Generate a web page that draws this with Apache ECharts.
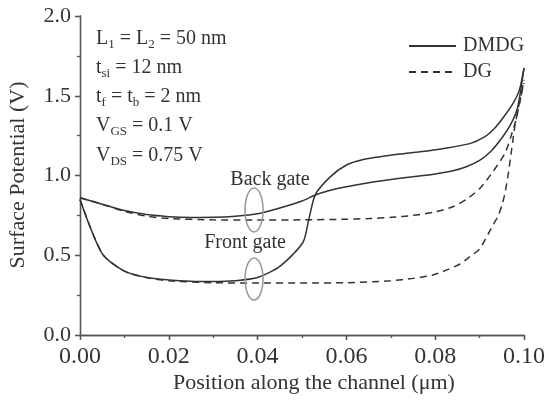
<!DOCTYPE html>
<html><head><meta charset="utf-8">
<script src="https://cdn.jsdelivr.net/npm/echarts@6/dist/echarts.min.js"></script>
<style>html,body{margin:0;padding:0;background:#fff}#c{width:549px;height:403px}</style>
</head><body><div id="c"></div>
<script>
// ---- data ----
const frontDmdgX = [0, 0.005, 0.01, 0.015, 0.02, 0.025, 0.03, 0.035, 0.04, 0.045, 0.0502, 0.0515, 0.053, 0.0563, 0.06, 0.0638, 0.0676, 0.072, 0.0766, 0.082, 0.0878, 0.091, 0.0935, 0.0955, 0.0975, 0.099, 0.1];
const frontDmdgY = [0.85, 0.51, 0.40, 0.36, 0.345, 0.337, 0.335, 0.34, 0.36, 0.43, 0.58, 0.72, 0.88, 0.99, 1.066, 1.10, 1.118, 1.135, 1.149, 1.17, 1.20, 1.24, 1.30, 1.37, 1.45, 1.54, 1.674];
const backDmdgX = [0, 0.005, 0.01, 0.015, 0.02, 0.025, 0.03, 0.035, 0.04, 0.045, 0.05, 0.053, 0.056, 0.06, 0.065, 0.07, 0.075, 0.08, 0.084, 0.087, 0.09, 0.0925, 0.095, 0.097, 0.0985, 0.1];
const backDmdgY = [0.86, 0.82, 0.78, 0.755, 0.742, 0.737, 0.738, 0.745, 0.76, 0.796, 0.84, 0.878, 0.905, 0.93, 0.955, 0.975, 0.992, 1.01, 1.03, 1.055, 1.095, 1.15, 1.235, 1.32, 1.42, 1.674];
const backDgX = [0, 0.005, 0.01, 0.015, 0.02, 0.03, 0.04, 0.05, 0.06, 0.065, 0.07, 0.075, 0.08, 0.084, 0.087, 0.0901, 0.093, 0.0957, 0.097, 0.098, 0.099, 0.1];
const backDgY = [0.86, 0.82, 0.775, 0.745, 0.73, 0.722, 0.721, 0.722, 0.726, 0.73, 0.738, 0.75, 0.772, 0.804, 0.85, 0.92, 1.024, 1.139, 1.24, 1.33, 1.45, 1.60];
const frontDgX = [0, 0.005, 0.01, 0.015, 0.02, 0.03, 0.04, 0.05, 0.06, 0.07, 0.075, 0.0795, 0.0826, 0.0856, 0.0878, 0.09, 0.0916, 0.093, 0.0941, 0.095, 0.0957, 0.0964, 0.0972, 0.098, 0.099, 0.1];
const frontDgY = [0.85, 0.51, 0.40, 0.36, 0.34, 0.328, 0.326, 0.326, 0.328, 0.34, 0.355, 0.376, 0.408, 0.445, 0.491, 0.54, 0.616, 0.69, 0.742, 0.81, 0.888, 1.0, 1.16, 1.32, 1.46, 1.58];
const xTickLabels = ['0.00', '0.02', '0.04', '0.06', '0.08', '0.10'];
const yTickLabels = ['0.0', '0.5', '1.0', '1.5', '2.0'];
const legendNames = ['DMDG', 'DG'];
const noteLines = [
  '{m|L}{s|1}{m| = L}{s|2}{m| = 50 nm}',
  '{m|t}{s|si}{m| = 12 nm}',
  '{m|t}{s|f}{m| = t}{s|b}{m| = 2 nm}',
  '{m|V}{s|GS}{m| = 0.1 V}',
  '{m|V}{s|DS}{m| = 0.75 V}'
];
const gateLabels = ['Back gate', 'Front gate'];
const ellipseCenters = [[0.0392, 0.784], [0.0392, 0.351]];

const zip = (xs, ys) => xs.map((x, i) => [x, ys[i]]);
const FONT = "'Liberation Serif', 'Times New Roman', serif";
const LINE = '#333';
const AX = '#555';

const chart = echarts.init(document.getElementById('c'), null, {renderer: 'canvas'});

function lineSeries(name, xs, ys, dashed) {
  return {
    type: 'line', name, data: zip(xs, ys), symbol: 'none', showSymbol: false,
    smooth: 0.25, xAxisIndex: 0, yAxisIndex: 0,
    lineStyle: {color: LINE, width: 1.5, type: dashed ? [7, 5] : 'solid'},
    itemStyle: {color: LINE}, animation: false, z: 3
  };
}

const option = {
  animation: false,
  backgroundColor: '#fff',
  grid: {left: 80, right: 25, top: 16, bottom: 68, containLabel: false},
  legend: {
    data: legendNames, orient: 'vertical', left: 403, top: 31,
    itemWidth: 47, itemHeight: 14, itemGap: 6,
    itemStyle: {opacity: 0},
    textStyle: {fontFamily: FONT, fontSize: 20, color: '#333', padding: [0, 0, 0, 2]}
  },
  xAxis: [{
    type: 'value', min: 0, max: 0.1, interval: 0.02, position: 'bottom',
    axisLine: {show: true, lineStyle: {color: AX, width: 1.3}},
    axisTick: {show: true, inside: false, length: 5, lineStyle: {color: AX, width: 1.3}},
    minorTick: {show: true, splitNumber: 2, length: 3, lineStyle: {color: AX, width: 1.3}},
    splitLine: {show: false},
    axisLabel: {fontFamily: FONT, fontSize: 24, color: '#333', margin: 10,
      formatter: v => xTickLabels[Math.round(v / 0.02)]}
  }, {
    type: 'value', min: 0, max: 0.1, interval: 0.02, position: 'top',
    axisLine: {show: true, lineStyle: {color: AX, width: 1.3}},
    axisTick: {show: true, inside: true, length: 5, lineStyle: {color: AX, width: 1.3}},
    splitLine: {show: false}, axisLabel: {show: false}
  }],
  yAxis: [{
    type: 'value', min: 0, max: 2, interval: 0.5, position: 'left',
    axisLine: {show: true, lineStyle: {color: AX, width: 1.3}},
    axisTick: {show: true, inside: false, length: 5, lineStyle: {color: AX, width: 1.3}},
    minorTick: {show: true, splitNumber: 2, length: 3, lineStyle: {color: AX, width: 1.3}},
    splitLine: {show: false},
    axisLabel: {fontFamily: FONT, fontSize: 22, color: '#333', margin: 9,
      formatter: v => yTickLabels[Math.round(v / 0.5)]}
  }, {
    type: 'value', min: 0, max: 2, interval: 0.5, position: 'right',
    axisLine: {show: true, lineStyle: {color: AX, width: 1.3}},
    axisTick: {show: true, inside: true, length: 5, lineStyle: {color: AX, width: 1.3}},
    splitLine: {show: false}, axisLabel: {show: false}
  }],
  series: [
    lineSeries('DMDG', frontDmdgX, frontDmdgY, false),
    lineSeries('DMDG', backDmdgX, backDmdgY, false),
    lineSeries('DG', backDgX, backDgY, true),
    lineSeries('DG', frontDgX, frontDgY, true)
  ]
};
chart.setOption(option);

// annotations
const g = [];
const noteY = [38, 67, 96, 125, 155];
noteLines.forEach((t, i) => {
  g.push({type: 'text', left: 96, top: noteY[i] - 12, z: 10,
    style: {text: t, fill: '#333', rich: {
      m: {fontFamily: FONT, fontSize: 20, lineHeight: 24, fill: '#333'},
      s: {fontFamily: FONT, fontSize: 13, lineHeight: 12, padding: [12, 0, 0, 0], fill: '#333'}
    }}});
});
g.push({type: 'text', x: 270, y: 180, z: 10, style: {text: gateLabels[0], font: '20px ' + FONT, fill: '#333', align: 'center', verticalAlign: 'middle'}});
g.push({type: 'text', x: 245, y: 243, z: 10, style: {text: gateLabels[1], font: '20px ' + FONT, fill: '#333', align: 'center', verticalAlign: 'middle'}});
const ry = [22, 21];
ellipseCenters.forEach((c, i) => {
  const p = chart.convertToPixel({gridIndex: 0}, c);
  g.push({type: 'ellipse', z: 9, shape: {cx: p[0], cy: p[1], rx: 9, ry: ry[i]},
    style: {fill: 'none', stroke: '#999', lineWidth: 1.5}});
});
g.push({type: 'text', x: 314, y: 383, z: 10, style: {text: 'Position along the channel (\u03bcm)', font: '22px ' + FONT, fill: '#333', align: 'center', verticalAlign: 'middle'}});
g.push({type: 'text', x: 18, y: 175, rotation: Math.PI / 2, z: 10, style: {text: 'Surface Potential (V)', font: '22px ' + FONT, fill: '#333', align: 'center', verticalAlign: 'middle'}});
chart.setOption({graphic: g});
</script></body></html>
